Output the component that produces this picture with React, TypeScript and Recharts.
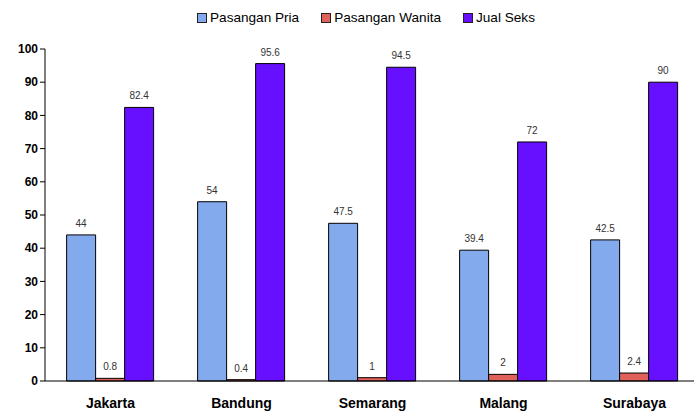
import React from 'react';
import { BarChart, Bar, XAxis, YAxis, LabelList } from 'recharts';

const cities = ['Jakarta', 'Bandung', 'Semarang', 'Malang', 'Surabaya'];
const pasanganPria = [44, 54, 47.5, 39.4, 42.5];
const pasanganWanita = [0.8, 0.4, 1, 2, 2.4];
const jualSeks = [82.4, 95.6, 94.5, 72, 90];
const yTicks = [0, 10, 20, 30, 40, 50, 60, 70, 80, 90, 100];

const series = [
  { key: 'pria', name: 'Pasangan Pria', color: '#84aaee', values: pasanganPria },
  { key: 'wanita', name: 'Pasangan Wanita', color: '#e0605a', values: pasanganWanita },
  { key: 'jual', name: 'Jual Seks', color: '#6610ff', values: jualSeks },
];

const data = cities.map((city, i) => ({
  city,
  pos: i + 0.5,
  pria: pasanganPria[i],
  wanita: pasanganWanita[i],
  jual: jualSeks[i],
}));

const font = 'Arial, "Liberation Sans", sans-serif';

const Legend: React.FC = () => (
  <div style={{ position: 'absolute', top: 10, left: 197, display: 'flex', fontFamily: font, fontSize: 13.6, color: '#000' }}>
    {series.map(s => (
      <div key={s.key} style={{ display: 'flex', alignItems: 'center', marginRight: 22 }}>
        <span style={{ display: 'inline-block', width: 8, height: 8, background: s.color, border: '1px solid #222', marginRight: 3 }} />
        <span>{s.name}</span>
      </div>
    ))}
  </div>
);

const App: React.FC = () => {
  return (
    <div style={{ position: 'absolute', top: 0, left: 0, width: 694, height: 415, background: '#fff', overflow: 'hidden' }}>
      <Legend />
      {/* plot runs a few px past the right edge in the original */}
      <BarChart width={700} height={415} data={data} margin={{ top: 49, right: 0, left: 0, bottom: 0 }}
        barCategoryGap="16.5%" barGap={0}>
        <XAxis dataKey="city" xAxisId="cat" height={34} axisLine={{ stroke: '#000' }} tickLine={false}
          tick={{ fontSize: 14, fontWeight: 'bold', fill: '#000', fontFamily: font }} tickMargin={11} />
        <XAxis dataKey="pos" xAxisId="bounds" type="number" domain={[0, 5]} ticks={[0, 1, 2, 3, 4, 5]}
          height={0} axisLine={false} tickLine={{ stroke: '#000' }} tickSize={5} tick={false} />
        <YAxis domain={[0, 100]} ticks={yTicks} width={45} interval={0} axisLine={{ stroke: '#000' }}
          tickLine={{ stroke: '#000' }} tickSize={5}
          tick={{ fontSize: 12, fontWeight: 'bold', fill: '#000', fontFamily: font }} />
        {series.map(s => (
          <Bar key={s.key} dataKey={s.key} name={s.name} xAxisId="cat" fill={s.color} stroke="#000" strokeWidth={1}
            isAnimationActive={false}>
            <LabelList dataKey={s.key} position="top" offset={8} style={{ fontSize: 10, fill: '#333', fontFamily: font }} />
          </Bar>
        ))}
      </BarChart>
    </div>
  );
};

export default App;
